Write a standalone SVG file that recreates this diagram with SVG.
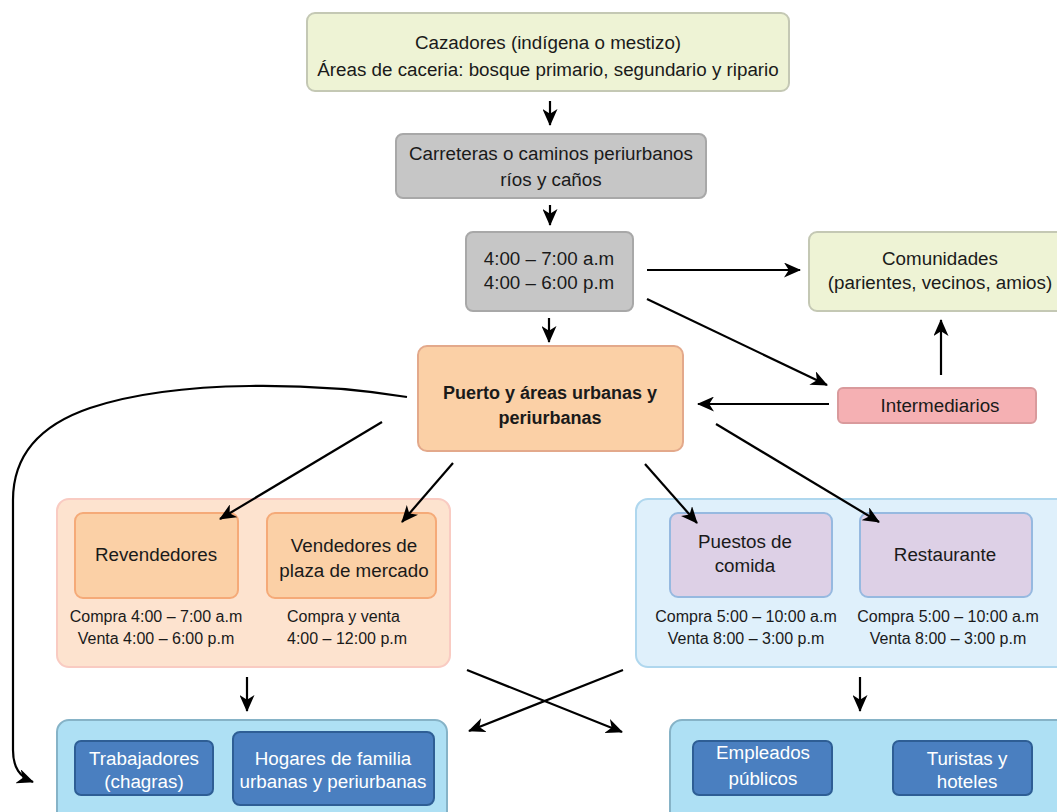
<svg xmlns="http://www.w3.org/2000/svg" width="1057" height="812" viewBox="0 0 1057 812">
<defs>
<marker id="ah" viewBox="0 0 17 15" refX="16" refY="7.5" markerWidth="17" markerHeight="15" markerUnits="userSpaceOnUse" orient="auto">
<path d="M0,0 L17,7.5 L0,15 L4.8,7.5 Z" fill="#000"/>
</marker>
<style>
text{font-family:"Liberation Sans",Arial,sans-serif;font-size:18.8px;fill:#1a1a1a;text-anchor:middle}
.sub{font-size:16px}
.b{font-weight:bold;font-size:18px}
.w{fill:#fff}
.green{fill:#eef3d5;stroke:#c4c8b4;stroke-width:2}
.grey{fill:#c6c6c6;stroke:#a8a8a8;stroke-width:2}
.orange{fill:#fbd0a6;stroke:#e3a98b;stroke-width:2}
.pink{fill:#f5b0b3;stroke:#d99a9c;stroke-width:2}
.lbg{fill:#fde3cf;stroke:#f9cbc2;stroke-width:2}
.obox{fill:#fbd0a6;stroke:#f5aa78;stroke-width:2}
.rbg{fill:#dff0fb;stroke:#afd7ee;stroke-width:2}
.purple{fill:#ddd0e6;stroke:#96b9e0;stroke-width:2}
.bbg{fill:#aee0f4;stroke:#86b3c7;stroke-width:2}
.blue{fill:#4a7fc0;stroke:#2e5e95;stroke-width:2}
.c{fill:none;stroke:#000;stroke-width:2.2;marker-end:url(#ah)}
</style>
</defs>

<g id="cazadores">
<rect class="green" x="307" y="13" width="482" height="78" rx="8"/>
<text x="548" y="49">Cazadores (indígena o mestizo)</text>
<text x="548" y="76">Áreas de caceria: bosque primario, segundario y ripario</text>
</g>

<g id="carreteras">
<rect class="grey" x="396" y="134" width="310" height="64" rx="7"/>
<text x="551" y="160">Carreteras o caminos periurbanos</text>
<text x="551" y="186">ríos y caños</text>
</g>

<g id="horarios">
<rect class="grey" x="466" y="232" width="167" height="79" rx="7"/>
<text x="549" y="265">4:00 – 7:00 a.m</text>
<text x="549" y="289">4:00 – 6:00 p.m</text>
</g>

<g id="comunidades">
<rect class="green" x="809" y="232" width="270" height="79" rx="8"/>
<text x="940" y="265">Comunidades</text>
<text x="940" y="289">(parientes, vecinos, amios)</text>
</g>

<g id="intermediarios">
<rect class="pink" x="838" y="388" width="198" height="35" rx="5"/>
<text x="940" y="412">Intermediarios</text>
</g>

<g id="puerto">
<rect class="orange" x="418" y="346" width="265" height="105" rx="9"/>
<text class="b" x="550" y="399">Puerto y áreas urbanas y</text>
<text class="b" x="550" y="424">periurbanas</text>
</g>

<g id="grupo-vendedores">
<rect class="lbg" x="57" y="499" width="393" height="168" rx="12"/>
<g id="revendedores">
<rect class="obox" x="75" y="513" width="163" height="85" rx="8"/>
<text x="156" y="561">Revendedores</text>
</g>
<g id="vendedores-plaza">
<rect class="obox" x="267" y="513" width="169" height="85" rx="8"/>
<text x="354" y="552">Vendedores de</text>
<text x="354" y="577">plaza de mercado</text>
</g>
<text class="sub" x="156" y="622">Compra 4:00 – 7:00 a.m</text>
<text class="sub" x="156" y="644">Venta 4:00 – 6:00 p.m</text>
<text class="sub" x="287" y="622" style="text-anchor:start">Compra y venta</text>
<text class="sub" x="287" y="644" style="text-anchor:start">4:00 – 12:00 p.m</text>
</g>

<g id="grupo-comida">
<rect class="rbg" x="636" y="499" width="440" height="168" rx="12"/>
<g id="puestos">
<rect class="purple" x="670" y="513" width="162" height="84" rx="8"/>
<text x="745" y="548">Puestos de</text>
<text x="745" y="572">comida</text>
</g>
<g id="restaurante">
<rect class="purple" x="860" y="513" width="172" height="84" rx="8"/>
<text x="945" y="561">Restaurante</text>
</g>
<text class="sub" x="746" y="622">Compra 5:00 – 10:00 a.m</text>
<text class="sub" x="746" y="644">Venta 8:00 – 3:00 p.m</text>
<text class="sub" x="948" y="622">Compra 5:00 – 10:00 a.m</text>
<text class="sub" x="948" y="644">Venta 8:00 – 3:00 p.m</text>
</g>

<g id="grupo-consumidores-1">
<rect class="bbg" x="57" y="720" width="390" height="110" rx="12"/>
<g id="trabajadores">
<rect class="blue" x="75" y="741" width="138" height="54" rx="6"/>
<text class="w" x="144" y="765">Trabajadores</text>
<text class="w" x="144" y="788">(chagras)</text>
</g>
<g id="hogares">
<rect class="blue" x="233" y="732" width="201" height="73" rx="7"/>
<text class="w" x="333" y="765">Hogares de familia</text>
<text class="w" x="333" y="788">urbanas y periurbanas</text>
</g>
</g>

<g id="grupo-consumidores-2">
<rect class="bbg" x="670" y="720" width="420" height="110" rx="12"/>
<g id="empleados">
<rect class="blue" x="693" y="741" width="139" height="54" rx="6"/>
<text class="w" x="763" y="759">Empleados</text>
<text class="w" x="763" y="785">públicos</text>
</g>
<g id="turistas">
<rect class="blue" x="893" y="741" width="139" height="54" rx="6"/>
<text class="w" x="967" y="765">Turistas y</text>
<text class="w" x="967" y="788">hoteles</text>
</g>
</g>

<g id="connectors">
<line class="c" x1="550" y1="101" x2="550" y2="125"/>
<line class="c" x1="550" y1="205" x2="550" y2="225"/>
<line class="c" x1="549" y1="318" x2="549" y2="342"/>
<line class="c" x1="647" y1="270" x2="800" y2="270"/>
<line class="c" x1="647" y1="299" x2="827" y2="385"/>
<line class="c" x1="941" y1="375" x2="941" y2="320"/>
<line class="c" x1="829" y1="404" x2="698" y2="404"/>
<path class="c" d="M407,397 C320,383 180,378 90,408 C40,425 13,455 13,500 L13,750 C13,768 20,777 33,782"/>
<line class="c" x1="382" y1="422" x2="220" y2="519"/>
<line class="c" x1="453" y1="463" x2="402" y2="522"/>
<line class="c" x1="645" y1="464" x2="697" y2="523"/>
<line class="c" x1="716" y1="424" x2="879" y2="522"/>
<line class="c" x1="247" y1="677" x2="247" y2="711"/>
<line class="c" x1="860" y1="677" x2="860" y2="711"/>
<line class="c" x1="467" y1="670" x2="622" y2="732"/>
<line class="c" x1="623" y1="670" x2="469" y2="731"/>
</g>
</svg>
